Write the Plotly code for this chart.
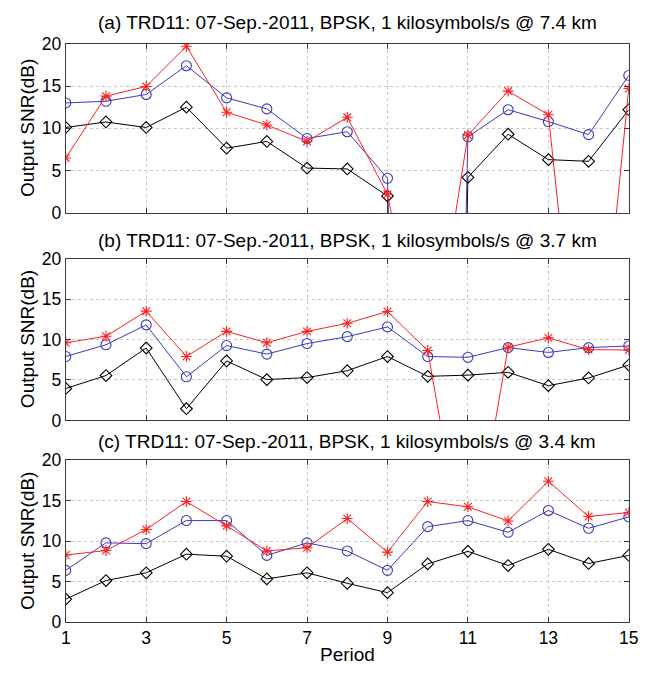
import plotly.graph_objects as go

periods = list(range(1, 16))

titles = [
    "(a) TRD11: 07-Sep.-2011, BPSK, 1 kilosymbols/s @ 7.4 km",
    "(b) TRD11: 07-Sep.-2011, BPSK, 1 kilosymbols/s @ 3.7 km",
    "(c) TRD11: 07-Sep.-2011, BPSK, 1 kilosymbols/s @ 3.4 km",
]
y_title = "Output SNR(dB)"
x_title = "Period"

# Panel (a) 7.4 km
a_red = [6.5, 13.8, 14.95, 19.7, 11.9, 10.4, 8.45, 11.3, 2.2, -21.0, 9.2, 14.4, 11.6, -33.0, 14.7]
a_blue = [13.0, 13.2, 14.0, 17.4, 13.6, 12.3, 8.8, 9.6, 4.1, -200.0, 9.0, 12.2, 10.8, 9.25, 16.25]
a_black = [10.1, 10.75, 10.1, 12.5, 7.65, 8.45, 5.3, 5.2, 2.0, -200.0, 4.2, 9.3, 6.3, 6.1, 12.2]

# Panel (b) 3.7 km
b_red = [9.6, 10.4, 13.5, 7.9, 11.0, 9.6, 11.0, 12.0, 13.45, 8.65, -19.6, 9.05, 10.2, 8.75, 8.7]
b_blue = [7.9, 9.35, 11.8, 5.4, 9.25, 8.2, 9.5, 10.35, 11.55, 7.9, 7.8, 9.0, 8.4, 9.0, 9.2]
b_black = [3.95, 5.55, 8.95, 1.45, 7.35, 5.05, 5.3, 6.15, 7.9, 5.45, 5.6, 5.95, 4.3, 5.25, 6.85]

# Panel (c) 3.4 km
c_red = [8.3, 8.85, 11.45, 14.9, 11.9, 8.8, 9.2, 12.8, 8.65, 14.9, 14.25, 12.5, 17.4, 13.05, 13.55]
c_blue = [6.4, 9.8, 9.7, 12.55, 12.55, 8.25, 9.8, 8.8, 6.4, 11.8, 12.55, 11.1, 13.8, 11.6, 13.0]
c_black = [2.85, 5.15, 6.1, 8.4, 8.15, 5.35, 6.1, 4.8, 3.65, 7.2, 8.75, 7.0, 9.0, 7.25, 8.25]

x_ticks = [1, 3, 5, 7, 9, 11, 13, 15]
y_ticks = [0, 5, 10, 15, 20]

panels = [
    (a_red, a_blue, a_black),
    (b_red, b_blue, b_black),
    (c_red, c_blue, c_black),
]

OFF = 8  # default page body margin
W, H = 651 - OFF, 679 - 2 * OFF
left_px, right_px = 62 - OFF, 638.5 - OFF
panel_px = [(34.5 - OFF, 209 - OFF), (256 - OFF, 423 - OFF), (464 - OFF, 631 - OFF)]
title_px = [13 - OFF, 237 - OFF, 445 - OFF]
ytitle_x_px = 23 - OFF
xtitle_y_px = 664 - OFF

RED = "#ff2020"
BLUE = "#3a3ac0"
BLACK = "#000000"
FONT = "Liberation Sans, Arial, sans-serif"

fig = go.Figure()
layout = dict(
    width=W, height=H,
    margin=dict(l=0, r=0, t=0, b=0),
    paper_bgcolor="white", plot_bgcolor="white",
    showlegend=False,
    font=dict(family=FONT, size=17, color="black"),
)
annotations = []

for i, (red, blue, black) in enumerate(panels):
    n = "" if i == 0 else str(i + 1)
    xa, ya = "x" + n, "y" + n
    styles = [
        (black, BLACK, "diamond-open", 9),
        (blue, BLUE, "circle-open", 10),
        (red, RED, "asterisk-open", 9),
    ]
    for vals, col, sym, sz in styles:
        fig.add_trace(go.Scatter(
            x=periods, y=vals, mode="lines+markers",
            line=dict(color=col, width=1),
            marker=dict(symbol=sym, size=sz, color=col, line=dict(color=col, width=1.1)),
            xaxis=xa, yaxis=ya, cliponaxis=True,
        ))
    top, bot = panel_px[i]
    axis_common = dict(
        showline=True, linecolor="#3a3a3a", linewidth=1, mirror="ticks",
        ticks="inside", ticklen=5, tickcolor="#3a3a3a",
        showgrid=True, gridcolor="#c8c8c8", griddash="dot", gridwidth=1,
        zeroline=False, tickfont=dict(family=FONT, size=17.5, color="black"),
        ticklabeloverflow="allow",
    )
    layout["xaxis" + n] = dict(
        axis_common,
        domain=[left_px / W, right_px / W],
        range=[1, 15], tickvals=x_ticks,
        showticklabels=(i == 2), anchor=ya,
    )
    layout["yaxis" + n] = dict(
        axis_common,
        domain=[1 - bot / H, 1 - top / H],
        range=[0, 20], tickvals=y_ticks, anchor=xa,
    )
    annotations.append(dict(
        text=titles[i], xref="paper", yref="paper",
        x=(left_px + right_px) / 2 / W, y=1 - title_px[i] / H,
        xanchor="center", yanchor="middle", showarrow=False,
        font=dict(family=FONT, size=19, color="black"),
    ))
    annotations.append(dict(
        text=y_title, xref="paper", yref="paper", textangle=-90,
        x=ytitle_x_px / W, y=1 - (top + bot) / 2 / H,
        xanchor="center", yanchor="middle", showarrow=False,
        font=dict(family=FONT, size=19, color="black"),
    ))

annotations.append(dict(
    text=x_title, xref="paper", yref="paper",
    x=(left_px + right_px) / 2 / W, y=1 - xtitle_y_px / H,
    xanchor="center", yanchor="middle", showarrow=False,
    font=dict(family=FONT, size=19, color="black"),
))

layout["annotations"] = annotations
fig.update_layout(**layout)
fig.write_html("out.html")
